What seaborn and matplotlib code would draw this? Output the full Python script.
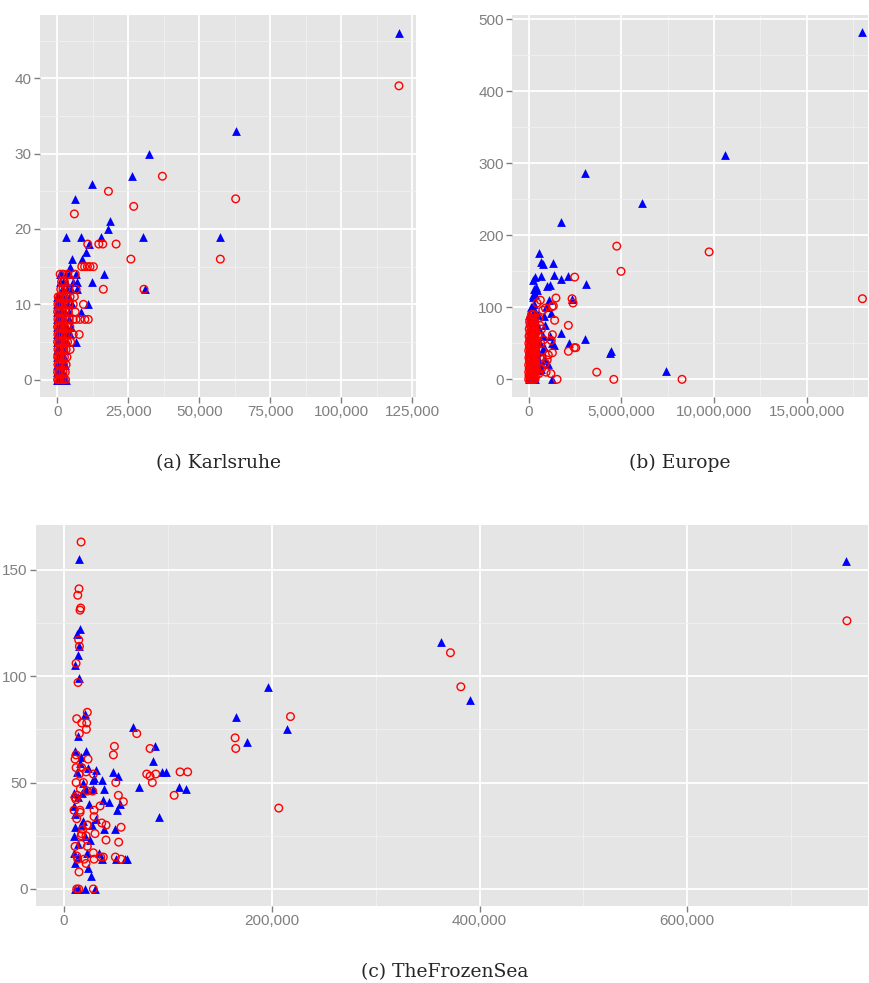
import numpy as np
import pandas as pd
import matplotlib
matplotlib.use("Agg")
import matplotlib.pyplot as plt
import seaborn as sns
from matplotlib.ticker import FuncFormatter, MultipleLocator

# ---------------- data (x for Karlsruhe/TheFrozenSea in thousands, Europe in millions) ----------------
# (a) Karlsruhe - blue triangles
ka_blue_x = [120.3, 62.8, 32.4, 26.4, 12.3, 6.2, 18.6, 18.0, 3.1, 8.3, 15.4, 30.3, 57.4, 11.2, 10.0,
             5.3, 8.8, 4.5, 16.5, 6.6, 12.3, 7.0, 30.9, 6.8, 2.1, 10.9, 8.2, 6.6, 3.1, 1.2,
             0.0, 0.4, 1.0, 1.8, 2.5,
             0.0, 0.5, 1.2, 2.0,
             0.0, 0.4, 1.0, 1.8, 2.6,
             0.0, 0.6, 1.3, 2.2,
             0.0, 0.5, 1.1, 1.9, 2.8,
             0.0, 0.4, 0.9, 1.6, 2.4, 3.5,
             0.0, 0.7, 1.4, 2.3, 3.8, 4.6,
             0.0, 0.5, 1.2, 2.0, 3.0, 4.8,
             0.0, 0.6, 1.3, 2.5, 4.0,
             0.0, 0.8, 1.5, 2.7, 4.2,
             0.0, 0.5, 1.2, 2.5, 3.8, 5.0,
             0.0, 0.6, 1.4, 2.6, 4.0,
             1.5, 3.5, 4.8,
             1.0, 2.0, 3.0, 5.5,
             0.8, 3.0, 4.2]
ka_blue_y = [46, 33, 30, 27, 26, 24, 21, 20, 19, 19, 19, 19, 19, 18, 17,
             16, 16, 15, 14, 14, 13, 13, 12, 12, 12, 10, 9, 5, 0, 14,
             0, 0, 0, 0, 0,
             1, 1, 1, 1,
             2, 2, 2, 2, 2,
             3, 3, 3, 3,
             4, 4, 4, 4, 4,
             5, 5, 5, 5, 5, 5,
             6, 6, 6, 6, 6, 6,
             7, 7, 7, 7, 7, 7,
             8, 8, 8, 8, 8,
             9, 9, 9, 9, 9,
             10, 10, 10, 10, 10, 10,
             11, 11, 11, 11, 11,
             12, 12, 12,
             13, 13, 13, 13,
             14, 14, 14]
# (a) Karlsruhe - red circles
ka_red_x = [120.3, 62.8, 37.0, 18.0, 26.9, 6.0, 20.7, 14.6, 16.0, 10.7, 25.9, 57.4, 16.2, 30.5,
            8.6, 9.6, 10.6, 11.5, 12.7, 9.2, 9.7, 10.9, 7.7, 4.5, 4.7, 6.6, 6.3, 6.6, 6.3, 5.6, 8.0, 5.6,
            0.1, 0.5, 1.0, 1.6, 2.3, 2.9,
            0.1, 0.6, 1.2, 2.0, 2.8,
            0.2, 0.7, 1.4, 2.2, 3.1,
            0.1, 0.5, 1.0, 1.7, 2.5, 3.4,
            0.2, 0.8, 1.5, 2.3, 3.1,
            0.1, 0.6, 1.2, 1.9, 2.7, 3.6,
            0.2, 0.7, 1.3, 2.0, 2.9, 3.8,
            0.1, 0.5, 1.1, 1.8, 2.6, 3.5, 4.4,
            0.2, 0.8, 1.4, 2.1, 3.0, 4.2,
            0.1, 0.6, 1.2, 1.9, 2.8, 3.9,
            0.2, 0.7, 1.3, 2.1, 3.0, 4.1, 5.6,
            0.3, 0.9, 1.6, 2.4, 3.3, 4.5, 6.0,
            1.2, 2.0, 3.0,
            1.5, 2.5, 4.5,
            1.0, 2.0, 3.5]
ka_red_y = [39, 24, 27, 25, 23, 22, 18, 18, 18, 18, 16, 16, 12, 12,
            15, 15, 15, 15, 15, 10, 8, 8, 6, 4, 5, 8, 9, 12, 14, 8, 8, 6,
            0, 0, 0, 0, 0, 0,
            1, 1, 1, 1, 1,
            2, 2, 2, 2, 2,
            3, 3, 3, 3, 3, 3,
            4, 4, 4, 4, 4,
            5, 5, 5, 5, 5, 5,
            6, 6, 6, 6, 6, 6,
            7, 7, 7, 7, 7, 7, 7,
            8, 8, 8, 8, 8, 8,
            9, 9, 9, 9, 9, 9,
            10, 10, 10, 10, 10, 10, 10,
            11, 11, 11, 11, 11, 11, 11,
            12, 12, 12,
            13, 13, 13,
            14, 14, 14]

# (b) Europe - blue triangles (x in millions)
eu_blue_x = [18.0, 10.58, 3.06, 6.12, 1.73, 0.58, 0.68, 0.76, 1.31, 0.34, 0.25, 0.65, 1.35, 1.74, 2.14,
             3.08, 0.43, 1.0, 1.15, 0.25, 1.1, 2.34, 1.2, 1.76, 3.04, 2.19, 1.38, 4.46, 4.39, 7.43,
             1.26, 0.6, 1.06, 1.17, 0.9, 0.54, 1.26,
             0.02, 0.1, 0.2, 0.35, 0.05, 0.15, 0.3, 0.08, 0.22, 0.4, 0.03, 0.12, 0.28, 0.45, 0.06,
             0.18, 0.33, 0.1, 0.25, 0.38, 0.05, 0.2, 0.32, 0.15, 0.28, 0.22, 0.35, 0.3, 0.42, 0.12,
             0.5, 0.55, 0.62, 0.7, 0.48, 0.65, 0.75, 0.85, 0.9, 0.95, 0.8, 0.18, 0.27, 0.0, 0.0, 0.0]
eu_blue_y = [483, 312, 286, 245, 218, 176, 163, 160, 162, 142, 138, 144, 145, 139, 143,
             133, 124, 129, 131, 115, 110, 112, 92, 64, 56, 50, 48, 39, 36, 12,
             0, 22, 22, 60, 27, 13, 50,
             0, 3, 0, 1, 10, 15, 8, 25, 30, 20, 40, 45, 50, 38, 55,
             60, 65, 70, 75, 80, 85, 90, 95, 100, 105, 117, 119, 125, 128, 80,
             90, 70, 50, 40, 30, 15, 60, 88, 75, 100, 45, 101, 87, 35, 60, 90]
# (b) Europe - red circles
eu_red_x = [18.0, 9.73, 4.75, 4.98, 2.48, 1.47, 2.34, 2.39, 0.63, 0.45, 1.26, 1.33, 0.9, 0.76, 1.4,
            2.14, 1.28, 1.22, 2.46, 2.54, 2.14, 1.28, 1.06, 1.0, 0.9, 0.94, 1.2, 3.67, 1.53, 4.59,
            8.27, 0.55, 0.6, 0.7, 0.5, 0.65, 0.8, 0.75, 0.6, 0.7, 0.55,
            0.0, 0.08, 0.16, 0.25, 0.34,
            0.02, 0.1, 0.2, 0.3, 0.4,
            0.0, 0.09, 0.18, 0.27, 0.37,
            0.03, 0.12, 0.22, 0.32, 0.42,
            0.0, 0.1, 0.19, 0.29, 0.39,
            0.04, 0.13, 0.23, 0.33,
            0.01, 0.1, 0.2, 0.3, 0.41,
            0.05, 0.15, 0.25, 0.35,
            0.0, 0.09, 0.19, 0.28, 0.38,
            0.04, 0.14, 0.24, 0.34,
            0.01, 0.11, 0.21, 0.31, 0.43,
            0.06, 0.16, 0.26, 0.36,
            0.02, 0.12, 0.22, 0.33,
            0.07, 0.17, 0.28, 0.4,
            0.03, 0.14, 0.25,
            0.08, 0.19, 0.31,
            0.05, 0.16, 0.3,
            0.1, 0.22, 0.36,
            0.15, 0.28]
eu_red_y = [112, 177, 185, 150, 142, 113, 112, 106, 110, 106, 101, 102, 99, 96, 82,
            75, 62, 54, 44, 44, 39, 37, 34, 27, 22, 10, 8, 10, 0, 0,
            0, 85, 75, 70, 60, 50, 55, 40, 30, 15, 8,
            0, 0, 0, 0, 0,
            5, 5, 5, 5, 5,
            10, 10, 10, 10, 10,
            15, 15, 15, 15, 15,
            20, 20, 20, 20, 20,
            25, 25, 25, 25,
            30, 30, 30, 30, 30,
            35, 35, 35, 35,
            40, 40, 40, 40, 40,
            45, 45, 45, 45,
            50, 50, 50, 50, 50,
            55, 55, 55, 55,
            60, 60, 60, 60,
            65, 65, 65, 65,
            70, 70, 70,
            75, 75, 75,
            80, 80, 80,
            85, 85, 85,
            90, 90]

# (c) TheFrozenSea - blue triangles (x in thousands)
fs_blue_x = [753, 363, 391, 196, 166, 176, 215, 66.7, 87.6, 85.2, 94, 98, 72.5, 91.8, 110.7,
             117.8, 47.5, 52.3, 38.8, 36.9, 37.8, 43.6, 50.7, 53.9, 38.5, 49.1, 58.7, 50, 33.7, 36.3,
             23.4, 25.7, 9.6, 10.3, 9.6, 13.2, 22.4, 28.9, 30.5, 27.6, 10.9, 13.0, 20.2, 29.8, 9.6,
             13.2, 17, 15.4, 23.4, 25, 18.6, 14.8, 15.4, 12.2, 14.1, 13.8, 14.1, 10.6, 20.9, 13.8,
             20.2, 11, 16, 12, 18, 21, 24, 11, 16, 20, 13, 9.5, 27, 31, 11, 28.2, 60.4]
fs_blue_y = [154, 116, 89, 95, 81, 69, 75, 76, 67, 60, 55, 55, 48, 34, 48,
             47, 55, 53, 47, 51, 42, 41, 37, 40, 28, 28, 14, 14, 17, 14,
             10, 6, 17, 29, 25, 21, 17, 52, 56, 51, 0, 0, 0, 0, 39,
             43, 45, 59, 57, 23, 32, 155, 122, 120, 114, 110, 99, 65, 65, 72,
             82, 105, 62, 55, 50, 47, 40, 35, 30, 25, 15, 45, 30, 33, 12, 47, 14]
# (c) TheFrozenSea - red circles
fs_red_x = [753.7, 372, 382, 218, 164.7, 165.3, 206.7, 82.8, 79.6, 82.8, 88.3, 85, 111.7, 119, 106,
            16.4, 14.4, 13.2, 16, 15.4, 14.1, 14.8, 11.6, 13.5, 22.4, 12.2, 17, 21.8, 21.5, 14.7,
            70, 48.5, 47.5, 11.6, 10.6, 23.1, 11.6, 17, 49.8, 52.3, 57.1, 34.7, 28.9, 28.9, 36.3,
            40.4, 22.8, 29.8, 40.4, 52.6, 54.9, 49.4, 54.9, 35.3, 37.8, 28.2, 28.9, 14.4, 12.2, 13.2,
            19.3, 21.2, 16.4, 16.4, 17, 21.2, 22.4, 12.2, 15.4, 15.4, 9.6, 11.6, 10.6, 12.8, 15.7,
            22.4, 18.6, 11.6, 14.7, 21.2, 28.2, 27.5, 12.2, 14.1, 28.2, 10.6, 18, 22.4]
fs_red_y = [126, 111, 95, 81, 71, 66, 38, 66, 54, 53, 54, 50, 55, 55, 44,
            163, 141, 138, 132, 131, 117, 114, 106, 97, 83, 80, 78, 78, 75, 73,
            73, 67, 63, 63, 61, 61, 57, 57, 50, 44, 41, 39, 37, 34, 31,
            30, 30, 26, 23, 22, 29, 15, 14, 15, 15, 17, 14, 8, 15.5, 14,
            14, 12, 21, 25, 26, 25, 30, 33, 36, 37, 37, 42, 43, 44, 47,
            46, 50, 50, 54, 55, 54, 46, 0, 0, 0, 20, 28, 20]

captions = ["(a) Karlsruhe", "(b) Europe", "(c) TheFrozenSea"]

# ---------------- plotting ----------------
sns.set_style("white")
plt.rcParams["font.family"] = ["Liberation Sans", "DejaVu Sans"]

W, H = 870, 983
fig = plt.figure(figsize=(W / 100, H / 100), dpi=100)


def frame(series_scale, bx, by, rx, ry):
    df_b = pd.DataFrame({"x": np.array(bx, dtype=float) * series_scale, "y": by})
    df_r = pd.DataFrame({"x": np.array(rx, dtype=float) * series_scale, "y": ry})
    return df_b, df_r


def draw(rect, df_b, df_r, xlim, ylim, xmaj, ymaj):
    ax = fig.add_axes(rect)
    ax.set_facecolor("#E5E5E5")
    sns.scatterplot(data=df_b, x="x", y="y", marker="^", s=40, color="#0000FF",
                    linewidth=0, ax=ax, zorder=3)
    sns.scatterplot(data=df_r, x="x", y="y", marker="o", s=30, facecolors="none",
                    edgecolor="#FF0000", linewidth=1.0, ax=ax, zorder=4)
    ax.set_xlim(xlim)
    ax.set_ylim(ylim)
    ax.xaxis.set_major_locator(MultipleLocator(xmaj))
    ax.xaxis.set_minor_locator(MultipleLocator(xmaj / 2))
    ax.yaxis.set_major_locator(MultipleLocator(ymaj))
    ax.yaxis.set_minor_locator(MultipleLocator(ymaj / 2))
    ax.grid(which="major", color="white", linewidth=1.3)
    ax.grid(which="minor", color="#F2F2F2", linewidth=0.6)
    ax.set_axisbelow(True)
    for s in ax.spines.values():
        s.set_visible(False)
    fmt = FuncFormatter(lambda v, p: f"{v:,.0f}")
    ax.xaxis.set_major_formatter(fmt)
    ax.yaxis.set_major_formatter(fmt)
    ax.tick_params(which="major", length=4, width=1, color="#7F7F7F",
                   labelcolor="#7F7F7F", labelsize=11, pad=2, bottom=True, left=True)
    ax.tick_params(which="minor", length=0)
    ax.set_xlabel("")
    ax.set_ylabel("")
    return ax


b, r = frame(1000, ka_blue_x, ka_blue_y, ka_red_x, ka_red_y)
draw([40 / W, 1 - 397 / H, 376 / W, 382 / H], b, r, (-6100, 126300), (-2.3, 48.4), 25000, 10)

b, r = frame(1e6, eu_blue_x, eu_blue_y, eu_red_x, eu_red_y)
draw([512 / W, 1 - 397 / H, 356 / W, 382 / H], b, r, (-0.9e6, 18.3e6), (-24.5, 506), 5e6, 100)

b, r = frame(1000, fs_blue_x, fs_blue_y, fs_red_x, fs_red_y)
draw([36 / W, 1 - 906 / H, 832 / W, 381 / H], b, r, (-27000, 774000), (-8, 171), 200000, 50)

serif = ["DejaVu Serif"]
fig.text(219 / W, 1 - 463 / H, captions[0], ha="center", va="center", family=serif, size=13.5)
fig.text(680 / W, 1 - 463 / H, captions[1], ha="center", va="center", family=serif, size=13.5)
fig.text(445 / W, 1 - 972 / H, captions[2], ha="center", va="center", family=serif, size=13.5)

fig.savefig("out.png", dpi=100)
